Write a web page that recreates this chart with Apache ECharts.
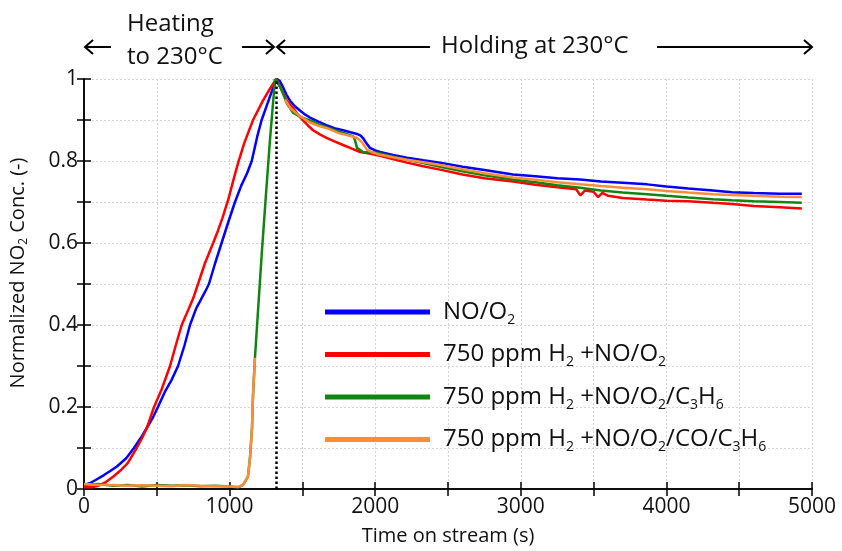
<!DOCTYPE html>
<html>
<head>
<meta charset="utf-8">
<script src="https://cdn.jsdelivr.net/npm/echarts@6/dist/echarts.min.js"></script>
<style>html,body{margin:0;padding:0;background:#fff}#c{width:842px;height:551px}</style>
</head>
<body>
<div id="c"></div>
<script>
// ---- data (time in s, normalized NO2 concentration) ----
const seriesNames = ['NO/O2', '750 ppm H2 +NO/O2', '750 ppm H2 +NO/O2/C3H6', '750 ppm H2 +NO/O2/CO/C3H6'];
const seriesColors = ['#0000ff', '#ff0000', '#118511', '#ff8c3a'];
const xTicks = [0, 1000, 2000, 3000, 4000, 5000];
const yTicks = [0, 0.2, 0.4, 0.6, 0.8, 1];
const peakTime = 1320;

const noO2 = [[0,0.01],[40,0.014],[80,0.022],[137,0.034],[180,0.044],[226,0.055],[290,0.075],[343,0.1],[400,0.13],[433,0.15],[470,0.172],[508,0.2],[560,0.24],[600,0.265],[646,0.3],[690,0.35],[728,0.4],[770,0.44],[800,0.46],[830,0.48],[858,0.5],[900,0.55],[945,0.6],[990,0.65],[1037,0.7],[1080,0.74],[1120,0.77],[1152,0.8],[1190,0.86],[1220,0.9],[1260,0.94],[1295,0.975],[1325,1.0],[1345,0.995],[1367,0.98],[1390,0.962],[1415,0.947],[1450,0.933],[1483,0.923],[1520,0.913],[1552,0.906],[1610,0.896],[1669,0.887],[1720,0.88],[1779,0.875],[1830,0.87],[1875,0.866],[1900,0.862],[1916,0.856],[1940,0.843],[1964,0.832],[2000,0.826],[2033,0.822],[2122,0.815],[2218,0.808],[2330,0.802],[2445,0.796],[2600,0.786],[2750,0.778],[2946,0.767],[3100,0.763],[3250,0.758],[3407,0.755],[3550,0.75],[3700,0.747],[3867,0.743],[4000,0.738],[4150,0.733],[4320,0.728],[4450,0.724],[4600,0.722],[4780,0.72],[4930,0.72]];

const h2NoO2 = [[0,0.004],[50,0.004],[100,0.008],[150,0.017],[200,0.03],[250,0.045],[300,0.063],[362,0.1],[400,0.125],[433,0.15],[481,0.2],[530,0.24],[591,0.3],[630,0.35],[671,0.4],[720,0.44],[750,0.465],[783,0.5],[830,0.55],[887,0.6],[920,0.63],[950,0.66],[990,0.705],[1025,0.752],[1058,0.795],[1100,0.843],[1161,0.9],[1230,0.948],[1275,0.975],[1320,1.0],[1355,0.975],[1394,0.947],[1435,0.93],[1470,0.913],[1504,0.899],[1540,0.886],[1573,0.875],[1620,0.865],[1669,0.856],[1720,0.848],[1779,0.839],[1840,0.83],[1896,0.822],[1960,0.818],[2033,0.813],[2120,0.805],[2218,0.796],[2330,0.787],[2445,0.779],[2600,0.767],[2750,0.758],[2946,0.75],[3100,0.742],[3250,0.736],[3380,0.731],[3410,0.716],[3440,0.728],[3500,0.725],[3530,0.712],[3560,0.722],[3600,0.715],[3700,0.71],[3867,0.706],[4000,0.703],[4150,0.702],[4320,0.698],[4450,0.695],[4600,0.69],[4780,0.687],[4930,0.684]];

const h2C3H6 = [[0,0.01],[100,0.012],[200,0.008],[300,0.01],[400,0.006],[500,0.01],[600,0.008],[700,0.009],[800,0.007],[900,0.008],[1000,0.006],[1060,0.004],[1092,0.01],[1126,0.03],[1140,0.075],[1154,0.15],[1161,0.23],[1174,0.32],[1198,0.45],[1222,0.58],[1250,0.72],[1277,0.85],[1312,1.0],[1340,0.985],[1360,0.971],[1394,0.94],[1435,0.918],[1490,0.907],[1552,0.899],[1610,0.89],[1669,0.882],[1750,0.872],[1827,0.863],[1850,0.86],[1861,0.851],[1875,0.832],[1916,0.822],[2012,0.82],[2100,0.812],[2218,0.803],[2330,0.795],[2445,0.786],[2600,0.775],[2750,0.765],[2946,0.755],[3100,0.748],[3250,0.741],[3407,0.735],[3550,0.728],[3700,0.723],[3867,0.719],[4000,0.715],[4150,0.711],[4320,0.707],[4450,0.704],[4600,0.702],[4780,0.70],[4930,0.698]];

const h2COC3H6 = [[0,0.012],[100,0.01],[200,0.01],[300,0.008],[400,0.009],[500,0.008],[600,0.007],[700,0.01],[800,0.008],[900,0.007],[1000,0.006],[1060,0.005],[1092,0.01],[1126,0.03],[1140,0.075],[1154,0.15],[1161,0.23],[1174,0.32],[1250,null],[1380,0.95],[1415,0.93],[1480,0.91],[1552,0.894],[1610,0.886],[1669,0.88],[1750,0.868],[1830,0.861],[1875,0.856],[1909,0.846],[1944,0.827],[1990,0.82],[2033,0.815],[2120,0.809],[2218,0.803],[2330,0.797],[2445,0.79],[2600,0.78],[2750,0.77],[2946,0.76],[3100,0.754],[3250,0.748],[3407,0.743],[3550,0.739],[3700,0.735],[3867,0.731],[4000,0.727],[4150,0.723],[4320,0.719],[4450,0.717],[4600,0.715],[4780,0.713],[4930,0.712]];

const seriesData = [noO2, h2NoO2, h2C3H6, h2COC3H6];

// ---- chart ----
const FONT = 'Open Sans';
const toRich = s => '{n|' + s.replace(/([A-Za-z])(\d)/g, '$1}{s|$2}{n|') + '}';
const chart = echarts.init(document.getElementById('c'));

const baseAxisLine = {lineStyle: {color: '#000', width: 1.5}};
const baseTick = {inside: true, length: 7, lineStyle: {color: '#000', width: 1.5}};
const dotted = {show: true, lineStyle: {color: '#d4d4d4', type: [2, 2], width: 1}};

const xLabelFmt = v => (xTicks.indexOf(v) >= 0 ? String(v) : '');
const yLabelFmt = v => {
  const n = Math.round(v * 10);
  for (const t of yTicks) if (Math.round(t * 10) === n) return String(t);
  return '';
};

const arrowStyle = {stroke: '#000', lineWidth: 2, fill: null};
const ay = 47;
const annFont = '24px "' + FONT + '"';

chart.setOption({
  animation: false,
  backgroundColor: '#fff',
  textStyle: {fontFamily: FONT},
  grid: {left: 84, right: 30, top: 79, bottom: 52},
  xAxis: [{
    type: 'value', min: 0, max: 5000, interval: 500, position: 'bottom',
    axisLine: baseAxisLine, axisTick: baseTick, splitLine: dotted,
    axisLabel: {formatter: xLabelFmt, fontSize: 21, color: '#111', margin: 8, fontFamily: FONT},
    name: 'Time on stream (s)', nameLocation: 'middle', nameGap: 37,
    nameTextStyle: {fontSize: 20, color: '#111', fontFamily: FONT}
  }, {
    type: 'value', min: 0, max: 5000, interval: 500, position: 'top',
    axisLine: baseAxisLine, axisTick: baseTick, splitLine: {show: false},
    axisLabel: {show: false}
  }],
  yAxis: [{
    type: 'value', min: 0, max: 1, interval: 0.1, position: 'left',
    axisLine: baseAxisLine, axisTick: baseTick, splitLine: dotted,
    axisLabel: {formatter: yLabelFmt, fontSize: 21, color: '#111', margin: 6, fontFamily: FONT},
    name: '{n|Normalized NO}{s|2}{n| Conc. (-)}', nameLocation: 'middle', nameGap: 54,
    nameTextStyle: {
      color: '#111', padding: [0, 0, 0, 22],
      rich: {
        n: {fontSize: 20, color: '#111', fontFamily: FONT, lineHeight: 24},
        s: {fontSize: 12, color: '#111', fontFamily: FONT, verticalAlign: 'bottom', lineHeight: 11}
      }
    }
  }, {
    type: 'value', min: 0, max: 1, interval: 0.1, position: 'right',
    axisLine: baseAxisLine, axisTick: baseTick, splitLine: {show: false},
    axisLabel: {show: false}
  }],
  legend: {
    orient: 'vertical', left: 320, top: 295, itemWidth: 105, itemHeight: 5, itemGap: 15.5,
    icon: 'rect', data: seriesNames,
    formatter: name => toRich(name),
    textStyle: {
      padding: [0, 0, 0, 8],
      rich: {
        n: {fontSize: 24, color: '#111', fontFamily: FONT, lineHeight: 30},
        s: {fontSize: 14, color: '#111', fontFamily: FONT, verticalAlign: 'bottom', lineHeight: 15}
      }
    }
  },
  series: seriesNames.map((name, i) => {
    const s = {
      name, type: 'line', data: seriesData[i], showSymbol: false, symbol: 'none',
      connectNulls: false,
      lineStyle: {color: seriesColors[i], width: 2.5},
      itemStyle: {color: seriesColors[i]},
      z: 2 + i
    };
    if (i === 0) {
      s.markLine = {
        silent: true, symbol: 'none', label: {show: false},
        lineStyle: {color: '#000', type: [2.5, 2.5], width: 2.5},
        data: [{xAxis: peakTime}]
      };
    }
    return s;
  }),
  graphic: [
    {type: 'text', left: 127, top: 12, style: {text: 'Heating', font: annFont, fill: '#111'}},
    {type: 'text', left: 127, top: 45, style: {text: 'to 230°C', font: annFont, fill: '#111'}},
    {type: 'text', left: 441, top: 34, style: {text: 'Holding at 230°C', font: annFont, fill: '#111'}},
    {type: 'polyline', shape: {points: [[85, ay], [111, ay]]}, style: arrowStyle},
    {type: 'polyline', shape: {points: [[93, ay - 7], [85, ay], [93, ay + 7]]}, style: arrowStyle},
    {type: 'polyline', shape: {points: [[242, ay], [274, ay]]}, style: arrowStyle},
    {type: 'polyline', shape: {points: [[266, ay - 7], [274, ay], [266, ay + 7]]}, style: arrowStyle},
    {type: 'polyline', shape: {points: [[277, ay], [430, ay]]}, style: arrowStyle},
    {type: 'polyline', shape: {points: [[285, ay - 7], [277, ay], [285, ay + 7]]}, style: arrowStyle},
    {type: 'polyline', shape: {points: [[657, ay], [812, ay]]}, style: arrowStyle},
    {type: 'polyline', shape: {points: [[804, ay - 7], [812, ay], [804, ay + 7]]}, style: arrowStyle}
  ]
});
</script>
</body>
</html>
